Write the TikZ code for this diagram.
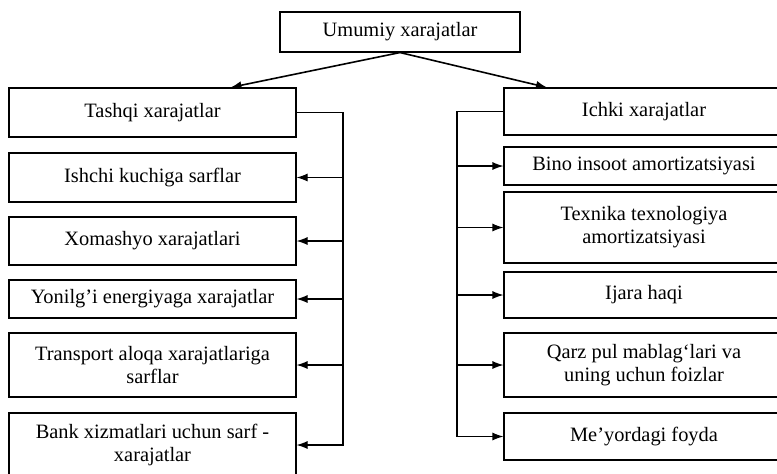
\documentclass[tikz,border=0pt]{standalone}
\usepackage{fontspec}
\setmainfont{Liberation Serif}
\usetikzlibrary{arrows.meta}

\begin{document}
\begin{tikzpicture}[x=1pt, y=-1pt, line width=1.1pt, font=\fontsize{20.4}{23}\selectfont,
    box/.style={draw, minimum width=287pt, inner sep=0pt, align=center},
    tip/.style={-{Latex[length=11pt,width=8pt]}}]
      \useasboundingbox (0,0) rectangle (777,474);
      \clip (0,0) rectangle (777,474);

      \node[box, minimum width=240pt, minimum height=40pt] (umumiy) at (400,32) {Umumiy xarajatlar};

      \node[box, minimum height=49pt] (tashqi) at (152.5,112.5) {Tashqi xarajatlar};
      \node[box, minimum height=49pt] (ishchi) at (152.5,177.5) {Ishchi kuchiga sarflar};
      \node[box, minimum height=48pt] (xomashyo) at (152.5,241) {Xomashyo xarajatlari};
      \node[box, minimum height=38pt] (yonilgi) at (152.5,299) {Yonilg’i energiyaga xarajatlar};
      \node[box, minimum height=64pt] (transport) at (152.5,365) {Transport aloqa xarajatlariga\\sarflar};
      \node[box, minimum height=64pt] (bank) at (152.5,445) {Bank xizmatlari uchun sarf -\\xarajatlar};

      \node[box, minimum width=280pt, minimum height=47pt] (ichki) at (644,111.5) {Ichki xarajatlar};
      \node[box, minimum width=280pt, minimum height=38pt] (bino) at (644,166) {Bino insoot amortizatsiyasi};
      \node[box, minimum width=280pt, minimum height=71pt] (texnika) at (644,227.5) {Texnika texnologiya\\amortizatsiyasi};
      \node[box, minimum width=280pt, minimum height=46pt] (ijara) at (644,295) {Ijara haqi};
      \node[box, minimum width=280pt, minimum height=64pt] (qarz) at (644,365) {Qarz pul mablag‘lari va\\uning uchun foizlar};
      \node[box, minimum width=280pt, minimum height=47pt] (meyor) at (644,436.5) {Me’yordagi foyda};

      \draw[tip, line width=1.6pt] (umumiy.south) -- ([xshift=78pt]tashqi.north);
      \draw[tip, line width=1.6pt] (umumiy.south) -- ([xshift=-97pt]ichki.north);

      \coordinate (lbus) at (343,0);
      \coordinate (rbus) at (457,0);

      \draw[tip] (tashqi.east) -| (lbus |- bank.east) -- (bank.east);
      \foreach \n in {ishchi, xomashyo, yonilgi, transport}
        \draw[tip] (lbus |- \n.east) -- (\n.east);

      \draw[tip] (ichki.west) -| (rbus |- meyor.west) -- (meyor.west);
      \foreach \n in {bino, texnika, ijara, qarz}
        \draw[tip] (rbus |- \n.west) -- (\n.west);
    \end{tikzpicture}
\end{document}
